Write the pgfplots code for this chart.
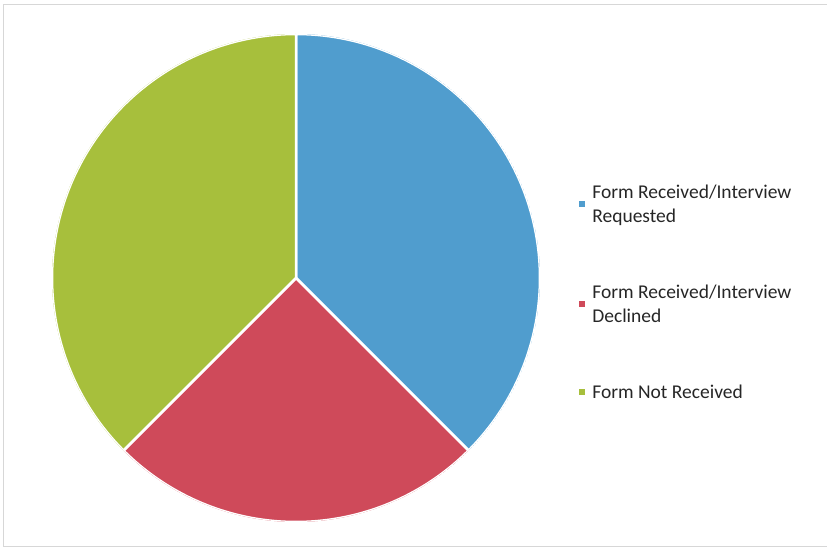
\documentclass[border=0pt]{standalone}
\usepackage{pgfplots}
\pgfplotsset{compat=1.18}
\usepackage{pgfplotstable}
\usepgfplotslibrary{polar}
\usepackage{fontspec}
\setmainfont{Carlito}
\definecolor{cblue}{RGB}{80,157,206}
\definecolor{cred}{RGB}{207,74,90}
\definecolor{cgreen}{RGB}{167,191,60}
\definecolor{frame}{RGB}{215,215,215}

\pgfplotstableread{
label value
Requested 3
Declined 2
NotReceived 3
}\piedata
\pgfplotstablegetelem{0}{value}\of\piedata \let\va\pgfplotsretval
\pgfplotstablegetelem{1}{value}\of\piedata \let\vb\pgfplotsretval
\pgfplotstablegetelem{2}{value}\of\piedata \let\vc\pgfplotsretval
\pgfmathsetmacro\tot{\va+\vb+\vc}
\pgfmathsetmacro\aA{90}
\pgfmathsetmacro\aB{90-360*\va/\tot}
\pgfmathsetmacro\aC{\aB-360*\vb/\tot}
\pgfmathsetmacro\aD{\aC-360*\vc/\tot}

\begin{document}
\begin{tikzpicture}
\useasboundingbox (0pt,0pt) rectangle (827pt,548pt);
\draw[frame, line width=1pt] (827pt,543pt) -- (3pt,543pt) -- (3pt,1pt) -- (827pt,1pt);
\begin{polaraxis}[
  at={(296pt,270pt)}, anchor=center,
  scale only axis, width=488pt, height=488pt,
  ymin=0, ymax=1, hide axis,
  legend cell align=left,
  legend image code/.code={\fill[#1,draw=none] (0pt,-3pt) rectangle (6pt,3pt);},
  legend style={at={(1.074,0.70)}, anchor=north west, draw=none, fill=none,
    font=\fontsize{19.5}{24}\selectfont, text=black!85,
    row sep=57pt, column sep=5pt,
    nodes={align=left, inner sep=2pt}},
]
\addplot[fill=cblue, draw=white, line width=2.5pt, domain=\aB:\aA, samples=120] {1} -- (axis cs:0,0) -- cycle;
\addlegendentry{Form Received/Interview\\Requested}
\addplot[fill=cred, draw=white, line width=2.5pt, domain=\aC:\aB, samples=120] {1} -- (axis cs:0,0) -- cycle;
\addlegendentry{Form Received/Interview\\Declined}
\addplot[fill=cgreen, draw=white, line width=2.5pt, domain=\aD:\aC, samples=120] {1} -- (axis cs:0,0) -- cycle;
\addlegendentry{Form Not Received}
\end{polaraxis}
\end{tikzpicture}
\end{document}
